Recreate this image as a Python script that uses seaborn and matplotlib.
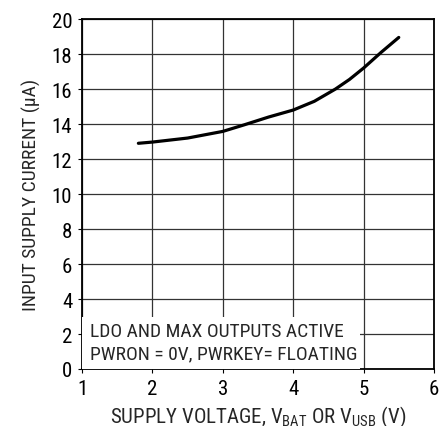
import matplotlib
matplotlib.use("Agg")
import matplotlib.pyplot as plt
import seaborn as sns
import pandas as pd
from matplotlib.patches import Rectangle

voltage = [1.8, 2.0, 2.5, 3.0, 3.3, 3.65, 4.0, 4.3, 4.6, 4.8, 5.0, 5.25, 5.5]
current = [12.9, 12.97, 13.2, 13.58, 13.95, 14.4, 14.8, 15.3, 16.0, 16.55, 17.2, 18.1, 18.95]
x_ticks = [1, 2, 3, 4, 5, 6]
y_ticks = [0, 2, 4, 6, 8, 10, 12, 14, 16, 18, 20]
note_lines = ["LDO AND MAX OUTPUTS ACTIVE", "PWRON = 0V, PWRKEY= FLOATING"]

sns.set_theme(style="white")
plt.rcParams['font.family'] = ['Roboto Condensed', 'Archivo Narrow', 'DejaVu Sans']
plt.rcParams['mathtext.fontset'] = 'custom'
plt.rcParams['mathtext.rm'] = 'Roboto Condensed'

fig = plt.figure(figsize=(4.46, 4.27), dpi=100)
ax = fig.add_axes([0.184, 0.1335, 0.789, 0.8195])

df = pd.DataFrame({"v": voltage, "i": current})
sns.lineplot(data=df, x="v", y="i", ax=ax, color="black", linewidth=2.3, zorder=5)

ax.set_xlim(1, 6)
ax.set_ylim(0, 20)
ax.set_xticks(x_ticks)
ax.set_yticks(y_ticks)
ax.grid(True, color="#333333", linewidth=0.9)
ax.set_axisbelow(True)
for s in ax.spines.values():
    s.set_color("black")
    s.set_linewidth(1.3)
ax.tick_params(axis="both", labelsize=15, colors="black", length=3, width=0.8,
               direction="out", bottom=True, left=True)
ax.tick_params(axis="y", pad=4)
ax.tick_params(axis="x", pad=4)

ax.add_patch(Rectangle((1, 0), 3.95, 3.0, facecolor="white", edgecolor="none", zorder=3))
ax.text(1.11, 2.2, note_lines[0], fontsize=14, va="center", ha="left", zorder=4)
ax.text(1.11, 0.9, note_lines[1], fontsize=14, va="center", ha="left", zorder=4)

ax.set_xlabel(r"SUPPLY VOLTAGE, V$_{\mathregular{BAT}}$ OR V$_{\mathregular{USB}}$ (V)", fontsize=15, labelpad=4)
ax.set_ylabel("INPUT SUPPLY CURRENT (µA)", fontsize=14, labelpad=8)

fig.savefig("out.png", dpi=100)
